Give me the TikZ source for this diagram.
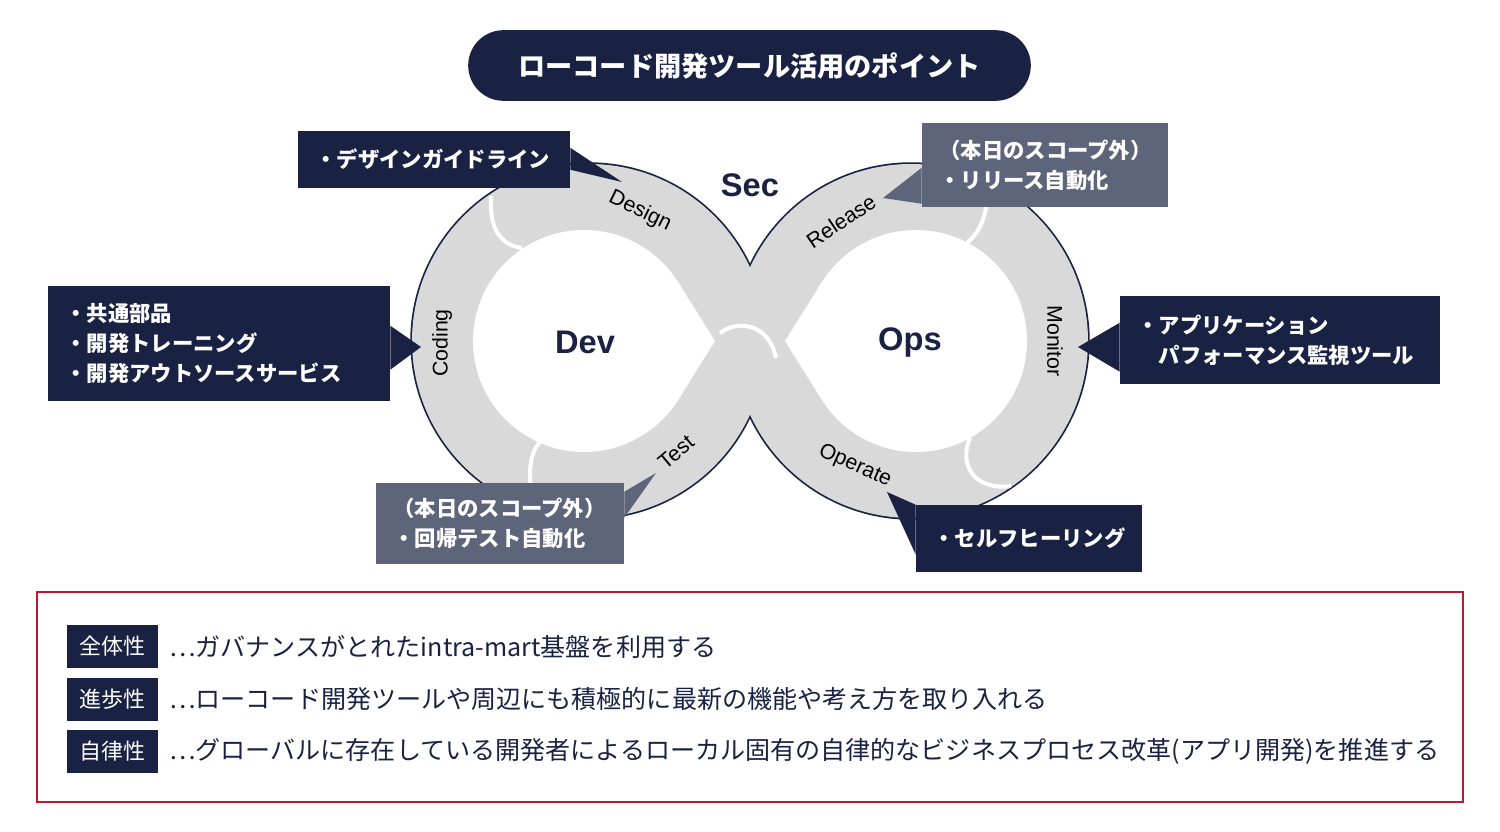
\documentclass[tikz,border=0pt]{standalone}
\usepackage{fontspec}
\setmainfont{Liberation Sans}
\newfontfamily\jpfont{Noto Sans CJK JP}
\usepackage{tikz}
\usetikzlibrary{positioning}
\definecolor{deepnavy}{RGB}{26,34,68}
\definecolor{slategrey}{RGB}{94,100,122}
\definecolor{loopgrey}{RGB}{217,217,217}
\definecolor{framered}{RGB}{196,20,48}
\tikzset{
  callout/.style={fill=deepnavy,text=white,align=left,inner xsep=13pt,inner ysep=0pt,
    font=\jpfont\bfseries\fontsize{16}{22.5}\selectfont},
  scopenote/.style={callout,fill=slategrey},
  tagbox/.style={fill=deepnavy,text=white,minimum width=68.25pt,minimum height=32.25pt,
    inner sep=0pt,font=\jpfont\fontsize{16.5}{20}\selectfont},
  pointtext/.style={text=deepnavy,anchor=west,inner sep=0pt,
    font=\jpfont\fontsize{18.8}{22}\selectfont},
  stagelabel/.style={font=\fontsize{16}{18}\selectfont,inner sep=0pt},
  hublabel/.style={text=deepnavy,font=\bfseries\fontsize{24.5}{28}\selectfont,inner sep=0pt},
  divider/.style={draw=white,line width=3pt}
}

\begin{document}
\begin{tikzpicture}[x=0.75pt,y=-0.75pt]
  \useasboundingbox (0,0) rectangle (1500,832);
  \node[fill=deepnavy,rounded corners=26.5pt,minimum width=422pt,minimum height=53pt,
    text=white,font=\jpfont\bfseries\fontsize{20.4}{24}\selectfont] (title)
    at (749.5,65.5) {ローコード開発ツール活用のポイント};

  % infinity loop
  \draw[deepnavy,line width=2.6pt] (589,341) circle[radius=177] (911,341) circle[radius=177];
  \fill[loopgrey] (589,341) circle[radius=177] (911,341) circle[radius=177];
  \fill[white] (584,341) circle[radius=111];
  \fill[white] (715,341) -- (678,282) -- (584,341) -- (678,400) -- cycle;
  \fill[white] (916,341) circle[radius=111];
  \fill[white] (785,341) -- (822,282) -- (916,341) -- (822,400) -- cycle;
  \draw[divider] (491,196) .. controls (489,228) and (500,245) .. (522,248);
  \draw[divider] (542,440) .. controls (528,452) and (527,480) .. (535,508);
  \draw[divider] (720,333) .. controls (740,318) and (770,326) .. (776,358);
  \draw[divider] (967,243) .. controls (980,232) and (988,215) .. (988,184);
  \draw[divider] (970,438) .. controls (958,465) and (975,491) .. (1011,486);

  \node[stagelabel,rotate=-26] (design) at (640,211) {Design};
  \node[stagelabel,rotate=90] (coding) at (442,343) {Coding};
  \node[stagelabel,rotate=40] (test) at (676,452) {Test};
  \node[stagelabel,rotate=34] (release) at (841,221) {Release};
  \node[stagelabel,rotate=-90] (monitor) at (1055,341) {Monitor};
  \node[stagelabel,rotate=-24] (operate) at (855,466) {Operate};
  \node[hublabel] (sec) at (750,185) {Sec};
  \node[hublabel] (dev) at (585,342) {Dev};
  \node[hublabel] (ops) at (910,342) {Ops};

  % callouts
  \node[callout,text width=178pt,minimum height=42.75pt] (designnote) at (434,159.5)
    {・デザインガイドライン};
  \coordinate (designtip) at (622,182);
  \fill[deepnavy] ([yshift=-12.75pt]designnote.north east) -- (designtip)
    -- ([yshift=-29.25pt]designnote.north east) -- cycle;

  \node[scopenote,text width=158.5pt,minimum height=63pt] (releasenote) at (1045,165)
    {（本日のスコープ外）\\・リリース自動化};
  \coordinate (releasetip) at (883,198);
  \fill[slategrey] ([yshift=-33.75pt]releasenote.north west) -- (releasetip)
    -- ([yshift=-60.75pt]releasenote.north west) -- cycle;

  \node[callout,text width=230.5pt,minimum height=86.25pt] (partsnote) at (219,343.5)
    {・共通部品\\・開発トレーニング\\・開発アウトソースサービス};
  \coordinate (partstip) at (421,347);
  \fill[deepnavy] ([yshift=-30pt]partsnote.north east) -- (partstip)
    -- ([yshift=-63pt]partsnote.north east) -- cycle;

  \node[callout,text width=214pt,minimum height=66pt] (apmnote) at (1280,340)
    {・アプリケーション\\\phantom{・}パフォーマンス監視ツール};
  \coordinate (apmtip) at (1078,347);
  \fill[deepnavy] ([yshift=-20.25pt]apmnote.north west) -- (apmtip)
    -- ([yshift=-57pt]apmnote.north west) -- cycle;

  \node[scopenote,text width=160pt,minimum height=60.75pt] (testnote) at (500,523.5)
    {（本日のスコープ外）\\・回帰テスト自動化};
  \coordinate (testtip) at (656,473);
  \fill[slategrey] ([yshift=-6.75pt]testnote.north east) -- (testtip)
    -- ([yshift=-26.25pt]testnote.north east) -- cycle;

  \node[callout,text width=143.5pt,minimum height=50.25pt] (healnote) at (1029,538.5)
    {・セルフヒーリング};
  \coordinate (healtip) at (887,492);
  \fill[deepnavy] (healnote.north west) -- (healtip)
    -- ([yshift=-37.5pt]healnote.north west) -- cycle;

  % points
  \node[draw=framered,line width=1.5pt,minimum width=1069.5pt,minimum height=157.5pt,
    inner sep=0pt] (frame) at (750,697) {};
  \node[tagbox] (tagwhole) at (112.5,646.5) {全体性};
  \node[tagbox,below=6.75pt of tagwhole] (tagprogress) {進歩性};
  \node[tagbox,below=6.75pt of tagprogress] (tagauto) {自律性};
  \node[pointtext,right=8pt of tagwhole] (textwhole)
    {…ガバナンスがとれたintra-mart基盤を利用する};
  \node[pointtext,right=8pt of tagprogress] (textprogress)
    {…ローコード開発ツールや周辺にも積極的に最新の機能や考え方を取り入れる};
  \node[pointtext,right=8pt of tagauto] (textauto)
    {…グローバルに存在している開発者によるローカル固有の自律的なビジネスプロセス改革(アプリ開発)を推進する};
\end{tikzpicture}
\end{document}
